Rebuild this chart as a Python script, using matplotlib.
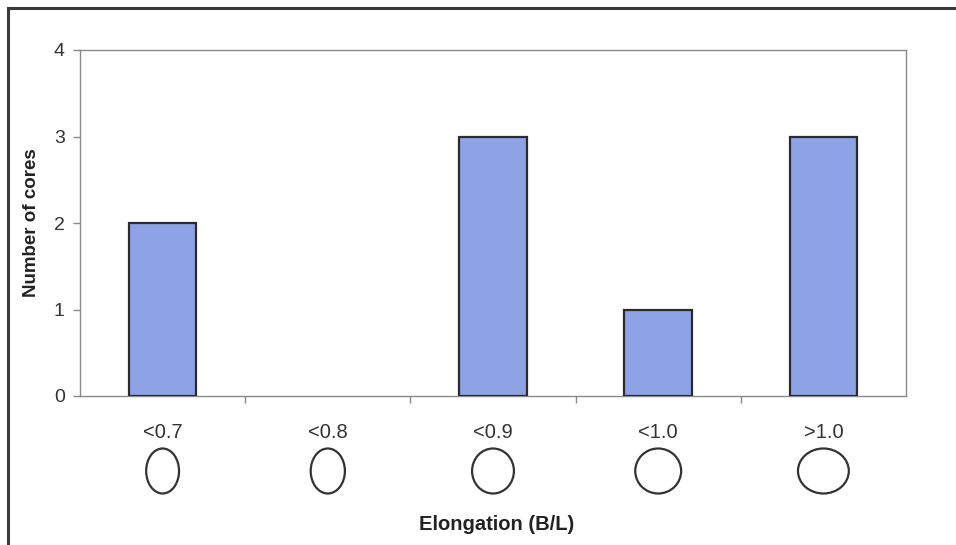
import matplotlib
matplotlib.use("Agg")
import matplotlib.pyplot as plt
from matplotlib.patches import Ellipse
from matplotlib.lines import Line2D
import matplotlib.transforms as mtransforms

plt.rcParams['font.family'] = ['Liberation Sans', 'DejaVu Sans']

# Elongation classes (B/L) and number of cores in each
categories = ["<0.7", "<0.8", "<0.9", "<1.0", ">1.0"]
counts = [2, 0, 3, 1, 3]
# width of the outline sketch drawn under each class, relative to its height
shape_aspect = [0.73, 0.76, 0.93, 1.02, 1.13]
y_ticks = [0, 1, 2, 3, 4]

W, H = 956, 545
fig = plt.figure(figsize=(W / 100, H / 100), dpi=100)
ax = fig.add_axes([80 / W, 1 - 396 / H, (906 - 80) / W, (396 - 50) / H])

x = list(range(len(categories)))
bars = ax.bar(x, counts, width=0.41, color="#8EA2E6", edgecolor="#2b2b2b",
              linewidth=1.6, zorder=3)
for b, c in zip(bars, counts):
    if c == 0:
        b.set_linewidth(0)

ax.set_xlim(-0.5, len(categories) - 0.5)
ax.set_ylim(0, 4)
ax.set_yticks(y_ticks)
ax.set_yticklabels([str(v) for v in y_ticks], fontsize=14, color="#333333")
ax.tick_params(axis="y", length=5, width=1, color="#888888", pad=6)

# category boundaries carry the tick marks; labels sit at the centres
ax.set_xticks([i + 0.5 for i in x[:-1]])
ax.set_xticklabels([])
ax.tick_params(axis="x", length=5, width=1, color="#888888", direction="out")
ax_h = 396 - 50
trans = mtransforms.blended_transform_factory(ax.transData, ax.transAxes)
for i, lab in enumerate(categories):
    ax.text(i, -(432 - 396) / ax_h, lab, ha="center", va="center", fontsize=14.5,
            color="#333333", transform=trans)

for side in ["left", "top", "right", "bottom"]:
    ax.spines[side].set_color("#8a8a8a")
    ax.spines[side].set_linewidth(1.0)

# outline shapes illustrating each elongation class
sh = 45  # shape height, pixels
cat_px = (906 - 80) / len(categories)
for i, a in enumerate(shape_aspect):
    e = Ellipse((i, -(471 - 396) / ax_h), width=a * sh / cat_px, height=sh / ax_h,
                transform=trans, facecolor="none", edgecolor="#333333",
                linewidth=1.6, clip_on=False)
    ax.add_patch(e)

ax.set_ylabel("Number of cores", fontsize=13.5, fontweight="bold", color="#222222", labelpad=10)
fig.text(497 / W, 1 - 524 / H, "Elongation (B/L)", ha="center", va="center",
         fontsize=14.5, fontweight="bold", color="#222222")

# outer frame of the chart region
fig.add_artist(Line2D([8 / W, 8 / W], [0, 1 - 8 / H], transform=fig.transFigure,
                      color="#3a3a3a", linewidth=2.2))
fig.add_artist(Line2D([8 / W, 1], [1 - 8 / H, 1 - 8 / H], transform=fig.transFigure,
                      color="#3a3a3a", linewidth=2.2))

fig.savefig("out.png", dpi=100, facecolor="white")
